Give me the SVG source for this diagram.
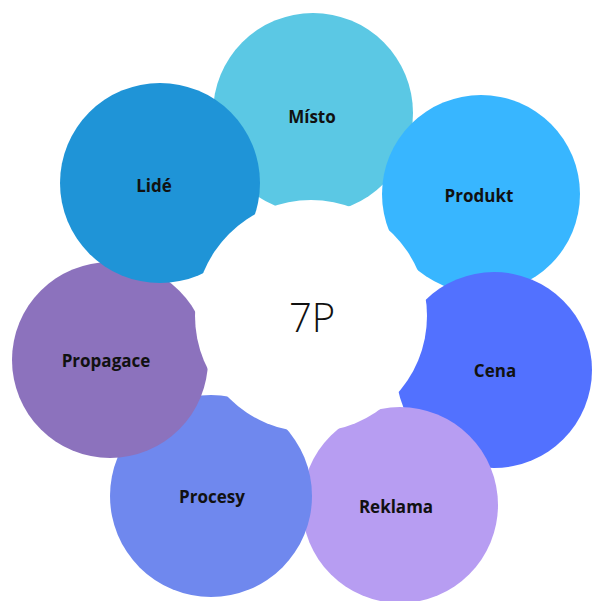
<svg xmlns="http://www.w3.org/2000/svg" width="592" height="601" viewBox="0 0 592 601">
<style>
.lbl{font-family:"Open Sans","Liberation Sans",sans-serif;font-weight:700;font-size:17px;fill:#111111;text-anchor:middle}
.hub{font-family:"Open Sans","Liberation Sans",sans-serif;font-weight:300;font-size:40px;fill:#111111;text-anchor:middle}
</style>
<rect width="592" height="601" fill="#ffffff"/>
<g id="connectors"></g>
<g id="misto"><circle cx="313" cy="113" r="100" fill="#5BC8E4"/><text class="lbl" x="312" y="123">Místo</text></g>
<g id="produkt"><circle cx="481" cy="194" r="99" fill="#38B6FF"/><text class="lbl" x="479" y="202">Produkt</text></g>
<g id="cena"><circle cx="494" cy="370" r="98" fill="#5271FF"/><text class="lbl" x="495" y="377">Cena</text></g>
<g id="reklama"><circle cx="400" cy="505" r="98" fill="#B79DF2"/><text class="lbl" x="396" y="513">Reklama</text></g>
<g id="procesy"><circle cx="211" cy="496" r="101" fill="#6F88EE"/><text class="lbl" x="212" y="503">Procesy</text></g>
<g id="propagace"><circle cx="110" cy="360" r="98" fill="#8C72BD"/><text class="lbl" x="106" y="367">Propagace</text></g>
<g id="lide"><circle cx="160" cy="183" r="100" fill="#1F94D7"/><text class="lbl" x="154" y="192">Lidé</text></g>
<g id="center"><circle cx="311" cy="316" r="116" fill="#ffffff"/><text class="hub" x="312" y="332">7P</text></g>
</svg>
